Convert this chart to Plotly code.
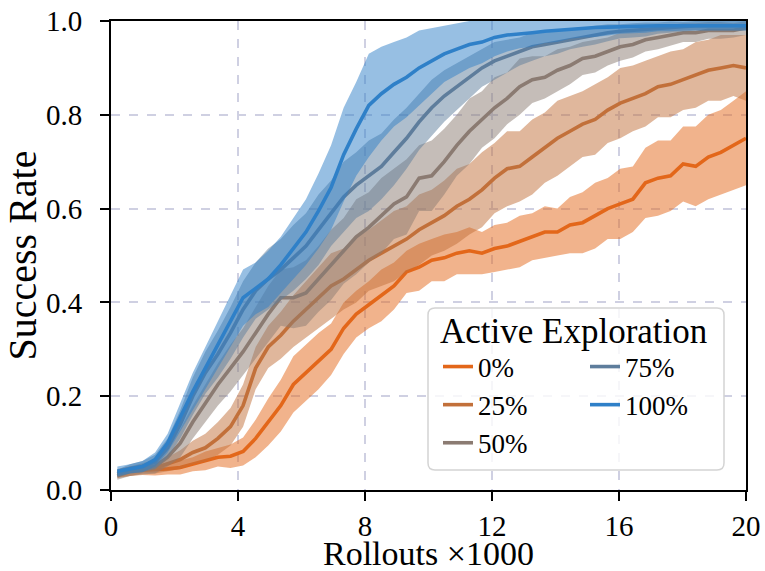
import numpy as np
import plotly.graph_objects as go

# ---------------- data ----------------
rollouts = np.linspace(0.2, 20.0, 51)  # x in thousands

labels = ["0%", "25%", "50%", "75%", "100%"]

mean_0 = [0.035, 0.04, 0.042, 0.043, 0.045, 0.048, 0.055, 0.062, 0.07, 0.072,
          0.082, 0.11, 0.145, 0.18, 0.225, 0.25, 0.275, 0.30, 0.345, 0.375,
          0.395, 0.415, 0.435, 0.465, 0.475, 0.49, 0.495, 0.505, 0.51, 0.505,
          0.515, 0.52, 0.53, 0.54, 0.55, 0.55, 0.565, 0.57, 0.585, 0.60,
          0.61, 0.62, 0.655, 0.665, 0.67, 0.695, 0.69, 0.71, 0.72, 0.735, 0.75]
std_0 = [0.01, 0.01, 0.01, 0.012, 0.012, 0.015, 0.015, 0.02, 0.02, 0.025,
         0.03, 0.04, 0.05, 0.055, 0.06, 0.06, 0.06, 0.055, 0.055, 0.05,
         0.05, 0.055, 0.05, 0.045, 0.05, 0.045, 0.05, 0.045, 0.05, 0.045,
         0.05, 0.05, 0.055, 0.05, 0.055, 0.05, 0.06, 0.065, 0.07, 0.065,
         0.075, 0.07, 0.075, 0.08, 0.075, 0.08, 0.085, 0.09, 0.09, 0.095, 0.1]

mean_25 = [0.035, 0.04, 0.045, 0.047, 0.055, 0.065, 0.08, 0.09, 0.11, 0.135,
           0.18, 0.26, 0.305, 0.33, 0.36, 0.385, 0.41, 0.435, 0.45, 0.47,
           0.49, 0.505, 0.52, 0.535, 0.555, 0.57, 0.585, 0.605, 0.62, 0.64,
           0.665, 0.685, 0.69, 0.71, 0.73, 0.75, 0.765, 0.78, 0.79, 0.81,
           0.825, 0.835, 0.845, 0.86, 0.865, 0.875, 0.885, 0.895, 0.90, 0.905, 0.90]
std_25 = [0.008, 0.01, 0.01, 0.012, 0.015, 0.02, 0.025, 0.03, 0.035, 0.04,
          0.045, 0.045, 0.045, 0.05, 0.055, 0.06, 0.065, 0.07, 0.065, 0.07,
          0.065, 0.07, 0.075, 0.07, 0.075, 0.07, 0.075, 0.08, 0.075, 0.08,
          0.075, 0.08, 0.075, 0.08, 0.075, 0.08, 0.075, 0.07, 0.075, 0.07,
          0.075, 0.07, 0.07, 0.065, 0.07, 0.065, 0.07, 0.065, 0.07, 0.065, 0.07]

mean_50 = [0.03, 0.04, 0.045, 0.05, 0.07, 0.10, 0.145, 0.185, 0.225, 0.26,
           0.295, 0.335, 0.375, 0.41, 0.41, 0.42, 0.45, 0.48, 0.51, 0.54,
           0.56, 0.585, 0.61, 0.625, 0.665, 0.67, 0.70, 0.735, 0.765, 0.79,
           0.815, 0.835, 0.86, 0.875, 0.88, 0.895, 0.905, 0.92, 0.925, 0.935,
           0.945, 0.95, 0.96, 0.965, 0.97, 0.975, 0.975, 0.98, 0.98, 0.98, 0.985]
std_50 = [0.008, 0.01, 0.012, 0.015, 0.02, 0.03, 0.035, 0.04, 0.045, 0.05,
          0.05, 0.055, 0.06, 0.06, 0.065, 0.07, 0.07, 0.075, 0.07, 0.08,
          0.075, 0.08, 0.075, 0.08, 0.07, 0.075, 0.07, 0.065, 0.07, 0.06,
          0.065, 0.055, 0.06, 0.05, 0.045, 0.045, 0.04, 0.035, 0.035, 0.03,
          0.03, 0.028, 0.025, 0.025, 0.022, 0.02, 0.02, 0.018, 0.018, 0.015, 0.015]

mean_75 = [0.035, 0.045, 0.05, 0.06, 0.09, 0.14, 0.20, 0.25, 0.29, 0.335,
           0.385, 0.425, 0.45, 0.47, 0.495, 0.52, 0.555, 0.59, 0.625, 0.65,
           0.67, 0.69, 0.72, 0.75, 0.785, 0.815, 0.84, 0.86, 0.88, 0.90,
           0.915, 0.925, 0.935, 0.945, 0.95, 0.955, 0.96, 0.965, 0.97, 0.975,
           0.978, 0.98, 0.982, 0.985, 0.987, 0.988, 0.99, 0.99, 0.99, 0.99, 0.99]
std_75 = [0.008, 0.01, 0.012, 0.015, 0.02, 0.03, 0.04, 0.045, 0.05, 0.055,
          0.06, 0.06, 0.065, 0.065, 0.07, 0.07, 0.075, 0.07, 0.075, 0.07,
          0.075, 0.07, 0.07, 0.065, 0.06, 0.06, 0.055, 0.05, 0.045, 0.04,
          0.04, 0.035, 0.03, 0.03, 0.025, 0.025, 0.02, 0.02, 0.02, 0.018,
          0.015, 0.015, 0.015, 0.012, 0.012, 0.01, 0.01, 0.01, 0.01, 0.01, 0.01]

mean_100 = [0.04, 0.045, 0.05, 0.065, 0.10, 0.155, 0.21, 0.26, 0.31, 0.36,
            0.41, 0.43, 0.45, 0.48, 0.515, 0.55, 0.595, 0.645, 0.715, 0.77,
            0.82, 0.845, 0.865, 0.88, 0.90, 0.915, 0.93, 0.94, 0.95, 0.955,
            0.965, 0.97, 0.972, 0.975, 0.978, 0.98, 0.982, 0.985, 0.986, 0.987,
            0.988, 0.989, 0.99, 0.99, 0.99, 0.99, 0.99, 0.99, 0.99, 0.99, 0.99]
std_100 = [0.01, 0.01, 0.012, 0.015, 0.02, 0.03, 0.04, 0.045, 0.05, 0.055,
           0.06, 0.055, 0.06, 0.06, 0.065, 0.07, 0.08, 0.09, 0.10, 0.10,
           0.11, 0.10, 0.09, 0.085, 0.08, 0.07, 0.06, 0.055, 0.05, 0.045,
           0.04, 0.035, 0.03, 0.03, 0.025, 0.025, 0.02, 0.02, 0.02, 0.018,
           0.015, 0.015, 0.015, 0.012, 0.012, 0.01, 0.01, 0.01, 0.01, 0.01, 0.01]

x_ticks = [0, 4, 8, 12, 16, 20]
y_ticks = [0.0, 0.2, 0.4, 0.6, 0.8, 1.0]

# ---------------- style ----------------
colors = ["#e3671a", "#c2703a", "#8b7b72", "#5e7d9c", "#2f80c8"]
fill_alpha = 0.5
FONT = "Times New Roman, Liberation Serif, DejaVu Serif, serif"

means = [mean_0, mean_25, mean_50, mean_75, mean_100]
stds = [std_0, std_25, std_50, std_75, std_100]
legend_ids = ["legend", "legend", "legend", "legend2", "legend2"]


def rgba(hex_color, a):
    h = hex_color.lstrip("#")
    r, g, b = int(h[0:2], 16), int(h[2:4], 16), int(h[4:6], 16)
    return f"rgba({r},{g},{b},{a})"


fig = go.Figure()
for lab, m, s, c, lg in zip(labels, means, stds, colors, legend_ids):
    m = np.array(m)
    s = np.array(s)
    lower = np.clip(m - s, 0, 1)
    upper = np.clip(m + s, 0, 1)
    fig.add_trace(go.Scatter(x=rollouts, y=lower, mode="lines",
                             line=dict(width=0, color=c), showlegend=False,
                             hoverinfo="skip"))
    fig.add_trace(go.Scatter(x=rollouts, y=upper, mode="lines",
                             line=dict(width=0, color=c), fill="tonexty",
                             fillcolor=rgba(c, fill_alpha), showlegend=False,
                             hoverinfo="skip"))
    fig.add_trace(go.Scatter(x=rollouts, y=m, mode="lines", name=lab,
                             line=dict(width=3.6, color=c), legend=lg))

PW, PH = 635, 469  # plot-area size in px

# legend frame (spans both legend columns)
x0, x1 = (428 - 111) / PW, (724 - 111) / PW
y0, y1 = (490 - 470) / PH, (490 - 308) / PH
rx, ry = 7 / PW, 7 / PH
path = (f"M {x0+rx},{y0} L {x1-rx},{y0} Q {x1},{y0} {x1},{y0+ry} "
        f"L {x1},{y1-ry} Q {x1},{y1} {x1-rx},{y1} L {x0+rx},{y1} "
        f"Q {x0},{y1} {x0},{y1-ry} L {x0},{y0+ry} Q {x0},{y0} {x0+rx},{y0} Z")
fig.add_shape(type="path", path=path, xref="paper", yref="paper",
              line=dict(color="#d4d4d4", width=1.5),
              fillcolor="rgba(255,255,255,0.8)", layer="above")

# x-axis title placed as a text label under the tick labels
fig.add_annotation(text="Rollouts ×1000", xref="paper", yref="paper",
                   x=0.5, y=(490 - 553) / PH, xanchor="center", yanchor="middle",
                   showarrow=False, font=dict(family=FONT, size=34, color="black"))

axis_common = dict(
    showline=True, linecolor="black", linewidth=2, mirror=True,
    ticks="outside", ticklen=9, tickwidth=2, tickcolor="black",
    showgrid=True, gridcolor="#cfd0e2", gridwidth=1.5, griddash="dash",
    zeroline=False, automargin=False,
    tickfont=dict(family=FONT, size=29, color="black"),
)

leg_top = (490 - 297) / PH
fig.update_layout(
    template="none",
    width=765, height=571,
    margin=dict(l=111, r=19, t=21, b=81),
    paper_bgcolor="white", plot_bgcolor="white",
    font=dict(family=FONT, color="black"),
    xaxis=dict(range=[0, 20], tickvals=x_ticks, ticktext=[str(v) for v in x_ticks],
               **axis_common),
    yaxis=dict(range=[0, 1], tickvals=y_ticks, tickformat=".1f",
               ticklabelstandoff=12,
               title=dict(text="Success Rate", font=dict(family=FONT, size=40),
                          standoff=2),
               **axis_common),
    legend=dict(x=(438 - 111) / PW, y=leg_top, xanchor="left", yanchor="top",
                bgcolor="rgba(0,0,0,0)", borderwidth=0, traceorder="normal",
                title=dict(text="Active Exploration", font=dict(family=FONT, size=35)),
                font=dict(family=FONT, size=27), tracegroupgap=0),
    legend2=dict(x=(585 - 111) / PW, y=leg_top, xanchor="left", yanchor="top",
                 bgcolor="rgba(0,0,0,0)", borderwidth=0, traceorder="normal",
                 title=dict(text="\u00a0", font=dict(family=FONT, size=35,
                                                      color="rgba(0,0,0,0)")),
                 font=dict(family=FONT, size=27), tracegroupgap=0),
)

fig.write_html(
    "out.html",
    config={"displayModeBar": False},
    post_script="document.body.style.margin='0';document.body.style.overflow='hidden';",
)
